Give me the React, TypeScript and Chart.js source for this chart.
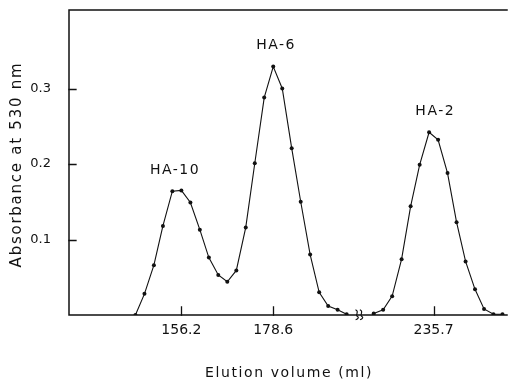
import { useEffect, useRef } from "react";
import { Chart, registerables } from "chart.js";

Chart.register(...registerables);

// Fractions eluted before the axis break: volume (ml) and absorbance at 530 nm
const volumesLeft = [
  145.0, 147.2, 149.5, 151.7, 154.0, 156.2, 158.4, 160.7, 162.9, 165.2, 167.4, 169.6,
  171.9, 174.1, 176.4, 178.6, 180.8, 183.1, 185.3, 187.6, 189.8, 192.0, 194.3, 196.5,
];
const absorbanceLeft = [
  0.0, 0.028, 0.066, 0.118, 0.164, 0.165, 0.149, 0.113, 0.076, 0.053, 0.044, 0.059,
  0.116, 0.201, 0.288, 0.329, 0.3, 0.221, 0.15, 0.08, 0.03, 0.012, 0.007, 0.001,
];

// Fractions eluted after the axis break
const volumesRight = [
  221.1, 223.4, 225.6, 227.9, 230.1, 232.3, 234.6, 236.8, 239.1, 241.3, 243.5, 245.8,
  248.0, 250.3, 252.5,
];
const absorbanceRight = [
  0.002, 0.007, 0.025, 0.074, 0.144, 0.199, 0.242, 0.232, 0.188, 0.123, 0.071, 0.034,
  0.008, 0.001, 0.001,
];

const xTickVolumes = [156.2, 178.6, 235.7];
const yTickValues = [0.1, 0.2, 0.3];

const peakNames = ["HA-10", "HA-6", "HA-2"];
const peakLabelVolumes = [154.65, 179.3, 236.1];
const peakLabelAbsorbance = [0.192, 0.357, 0.27];

// Broken volume axis: everything past the break is shifted left by HIDDEN_ML.
const BREAK_AT = 199.6;
const HIDDEN_ML = 18.0;
const toAxis = (v: number) => (v > BREAK_AT ? v - HIDDEN_ML : v);
const fromAxis = (v: number) => (v > BREAK_AT ? v + HIDDEN_ML : v);

const FONT = "'DejaVu Sans', sans-serif";
const INK = "#111";

const framePlugin = {
  id: "frame",
  afterDraw(chart: any) {
    const { ctx, chartArea: a, scales } = chart;
    const xs = scales.x;
    const ys = scales.y;
    ctx.save();
    ctx.strokeStyle = INK;
    ctx.lineWidth = 1.5;
    ctx.lineCap = "square";
    ctx.beginPath();
    ctx.moveTo(a.right, a.top);
    ctx.lineTo(a.left, a.top);
    ctx.lineTo(a.left, a.bottom);
    ctx.lineTo(a.right, a.bottom);
    ctx.stroke();

    // inward tick marks
    ctx.lineWidth = 1.3;
    ctx.beginPath();
    for (const v of yTickValues) {
      const y = Math.round(ys.getPixelForValue(v)) + 0.5;
      ctx.moveTo(a.left, y);
      ctx.lineTo(a.left + 7, y);
    }
    for (const v of xTickVolumes) {
      const x = Math.round(xs.getPixelForValue(toAxis(v))) + 0.5;
      ctx.moveTo(x, a.bottom);
      ctx.lineTo(x, a.bottom - 8);
    }
    ctx.stroke();

    // axis break mark
    const bx = xs.getPixelForValue(BREAK_AT);
    const by = a.bottom;
    ctx.lineWidth = 1.1;
    for (const dx of [-2.2, 2.2]) {
      const cx = bx + dx;
      ctx.beginPath();
      ctx.moveTo(cx - 1.2, by - 5);
      ctx.bezierCurveTo(cx + 2.5, by - 3.5, cx - 2.5, by + 0.5, cx + 0.3, by + 1.5);
      ctx.bezierCurveTo(cx + 2.2, by + 2.4, cx + 0.5, by + 4, cx - 1, by + 4.5);
      ctx.stroke();
    }

    // peak labels
    ctx.fillStyle = INK;
    ctx.textAlign = "center";
    ctx.textBaseline = "middle";
    ctx.font = `14px ${FONT}`;
    (ctx as any).letterSpacing = "1.5px";
    peakNames.forEach((name, i) => {
      const x = xs.getPixelForValue(toAxis(peakLabelVolumes[i]));
      const y = ys.getPixelForValue(peakLabelAbsorbance[i]);
      ctx.fillText(name, x, y);
    });

    // axis titles
    ctx.font = `14px ${FONT}`;
    (ctx as any).letterSpacing = "1.6px";
    ctx.fillText("Elution volume (ml)", (a.left + a.right) / 2 + 1, 373);
    ctx.translate(17, (a.top + a.bottom) / 2 + 2);
    ctx.rotate(-Math.PI / 2);
    ctx.font = `15px ${FONT}`;
    (ctx as any).letterSpacing = "1.75px";
    ctx.fillText("Absorbance at 530 nm", 0, 0);
    (ctx as any).letterSpacing = "0px";
    ctx.restore();
  },
};

export default function App() {
  const canvasRef = useRef<HTMLCanvasElement | null>(null);

  useEffect(() => {
    const canvas = canvasRef.current;
    if (!canvas) return;
    const lineStyle = {
      borderColor: INK,
      borderWidth: 1.1,
      pointRadius: 2,
      pointBackgroundColor: INK,
      pointBorderColor: INK,
      pointBorderWidth: 0,
      tension: 0,
      fill: false,
    };
    const chart = new Chart(canvas, {
      type: "line",
      data: {
        datasets: [
          {
            ...lineStyle,
            data: volumesLeft.map((v, i) => ({ x: toAxis(v), y: absorbanceLeft[i] })),
          },
          {
            ...lineStyle,
            data: volumesRight.map((v, i) => ({ x: toAxis(v), y: absorbanceRight[i] })),
          },
        ],
      },
      options: {
        animation: false,
        responsive: false,
        devicePixelRatio: 1,
        layout: { padding: { top: 10, right: 0, bottom: 0, left: 0 } },
        plugins: { legend: { display: false }, tooltip: { enabled: false } },
        scales: {
          x: {
            type: "linear",
            min: 128.8,
            max: 235.6,
            afterBuildTicks: (s: any) => {
              s.ticks = xTickVolumes.map((v) => ({ value: toAxis(v) }));
            },
            afterFit: (s: any) => {
              s.height = 67;
              s.paddingLeft = 0;
              s.paddingRight = 0;
            },
            grid: { display: false, drawTicks: false },
            border: { display: false },
            ticks: {
              autoSkip: false,
              maxRotation: 0,
              padding: 7,
              color: INK,
              font: { family: FONT, size: 14 },
              callback: (v: any) => fromAxis(Number(v)).toFixed(1),
            },
          },
          y: {
            min: 0,
            max: 0.404,
            afterBuildTicks: (s: any) => {
              s.ticks = yTickValues.map((v) => ({ value: v }));
            },
            afterFit: (s: any) => {
              s.width = 69;
              s.paddingTop = 0;
              s.paddingBottom = 0;
            },
            grid: { display: false, drawTicks: false },
            border: { display: false },
            ticks: {
              padding: 18,
              color: INK,
              font: { family: FONT, size: 13 },
              callback: (v: any) => Number(v).toFixed(1),
            },
          },
        },
      },
      plugins: [framePlugin],
    });
    return () => chart.destroy();
  }, []);

  return (
    <div style={{ position: "fixed", left: 0, top: 0, width: 511, height: 382, background: "#fff" }}>
      <canvas ref={canvasRef} width={511} height={382} style={{ display: "block" }} />
    </div>
  );
}
